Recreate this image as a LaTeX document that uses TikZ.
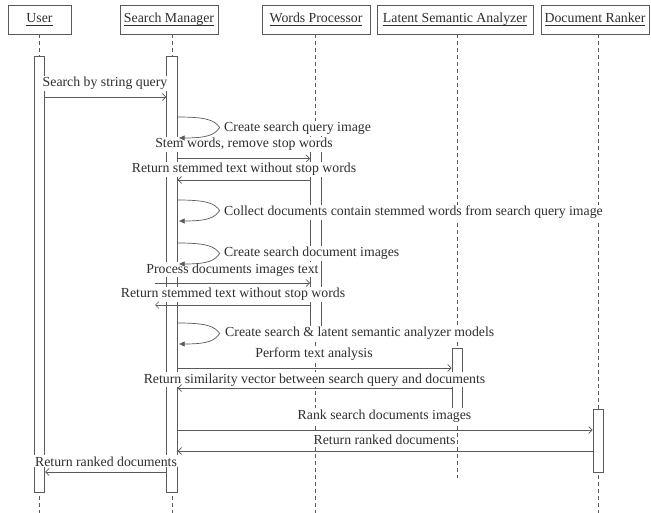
\documentclass[tikz,border=0pt]{standalone}
\usepackage{fontspec}
\setmainfont{Liberation Serif}
\usetikzlibrary{arrows.meta,calc}
\definecolor{ln}{HTML}{5a5a5a}
\definecolor{tx}{HTML}{2e2e2e}
\newcommand\hdul[1]{\setbox0\hbox{#1}\rlap{\rule[-2.6pt]{\wd0}{0.75pt}}\box0}
\begin{document}
\begin{tikzpicture}[x=1pt,y=-1pt,
  txt/.style={font=\fontsize{13.8}{15}\selectfont, text=tx},
  obj/.style={txt, draw=ln, line width=0.8pt, minimum height=29pt, inner sep=0pt},
  life/.style={draw=ln, dash pattern=on 4pt off 3pt, line width=0.6pt},
  act/.style={draw=ln, line width=0.8pt, fill=white, inner sep=0pt, minimum width=10.5pt},
  msg/.style={draw=ln, line width=0.7pt, -{Straight Barb[length=3.5pt,width=7pt]}},
  selfm/.style={draw=ln, line width=0.7pt, -{Latex[length=6pt,width=5.5pt]}},
  lbl/.style={txt, fill=white, inner sep=1pt}]
\useasboundingbox[fill=white] (0,0) rectangle (651,513);

% objects
\node[obj, minimum width=63pt]  (user) at (39.5,19.5) {\hdul{User}};
\node[obj, minimum width=98pt]  (sm)   at (169,19.5)  {\hdul{Search Manager}};
\node[obj, minimum width=108pt] (wp)   at (316,19.5)  {\hdul{Words Processor}};
\node[obj, minimum width=156pt] (lsa)  at (455,19.5)  {\hdul{Latent Semantic Analyzer}};
\node[obj, minimum width=108pt] (dr)   at (595,19.5)  {\hdul{Document Ranker}};

% lifeline ends
\coordinate (uT) at (39.5,34);  \coordinate (uB) at (39.5,513);
\coordinate (sT) at (172,34);   \coordinate (sB) at (172,513);
\coordinate (wT) at (315.5,34); \coordinate (wB) at (315.5,513);
\coordinate (lT) at (457,34);   \coordinate (lB) at (457,478);
\coordinate (dT) at (598,34);   \coordinate (dB) at (598,513);
\draw[life] (uT) -- (uB);
\draw[life] (sT) -- (sB);
\draw[life] (wT) -- (wB);
\draw[life] (lT) -- (lB);
\draw[life] (dT) -- (dB);

% activations
\node[act, minimum height=436pt] (uA) at (39.5,274) {};
\node[act, minimum height=436pt] (sA) at (172,274) {};
\node[act, minimum height=202pt] (wA) at (315.75,225) {};
\node[act, minimum height=60pt]  (lA) at (457.25,378) {};
\node[act, minimum height=63pt]  (dA) at (598.25,440.5) {};

% labels
\node[lbl, anchor=base] (t1) at (105,87) {Search by string query};
\node[lbl, anchor=base west] (t2) at (223,132) {Create search query image};
\node[lbl, anchor=base] (t3) at (244,148) {Stem words, remove stop words};
\node[lbl, anchor=base] (t4) at (244,173) {Return stemmed text without stop words};
\node[lbl, anchor=base west] (t5) at (223,216) {Collect documents contain stemmed words from search query image};
\node[lbl, anchor=base west] (t6) at (223,257) {Create search document images};
\node[lbl, anchor=base] (t7) at (232.5,273) {Process documents images text};
\node[lbl, anchor=base] (t8) at (233,298) {Return stemmed text without stop words};
\node[lbl, anchor=base west] (t9) at (224,337) {Create search \& latent semantic analyzer models};
\node[lbl, anchor=base] (t10) at (314,357) {Perform text analysis};
\node[lbl, anchor=base] (t11) at (314.5,383) {Return similarity vector between search query and documents};
\node[lbl, anchor=base] (t12) at (384.5,419) {Rank search documents images};
\node[lbl, anchor=base] (t13) at (384.5,444) {Return ranked documents};
\node[lbl, anchor=base] (t14) at (106,466) {Return ranked documents};

% message rows
\coordinate (r1) at (0,97);
\coordinate (r3) at (0,158.5);
\coordinate (r4) at (0,180);
\coordinate (r7) at (0,283);
\coordinate (r8) at (0,305);
\coordinate (r10) at (0,368);
\coordinate (r11) at (0,388);
\coordinate (r12) at (0,430);
\coordinate (r13) at (0,451);
\coordinate (r14) at (0,472);
\coordinate (pL) at (155,0);

\draw[msg] (uA.east |- r1) -- (sA.west |- r1);
\draw[msg] (sA.east |- r3) -- (wA.west |- r3);
\draw[msg] (wA.west |- r4) -- (sA.east |- r4);
\draw[msg] (pL |- r7) -- (wA.west |- r7);
\draw[msg] (wA.west |- r8) -- (pL |- r8);
\draw[msg] (sA.east |- r10) -- (lA.west |- r10);
\draw[msg] (lA.west |- r11) -- (sA.east |- r11);
\draw[msg] (sA.east |- r12) -- (dA.west |- r12);
\draw[msg] (dA.west |- r13) -- (sA.east |- r13);
\draw[msg] (sA.west |- r14) -- (uA.east |- r14);

% self messages
\foreach \y in {117,200,243,323}{
  \coordinate (ls) at (sA.east |- 0,\y);
  \draw[selfm] (ls) .. controls +(30,0) and +(-5,-7) .. ++(42,10.5)
        .. controls +(-5,7) and +(30,0) .. ++(-41,10.5);
}
\end{tikzpicture}
\end{document}
